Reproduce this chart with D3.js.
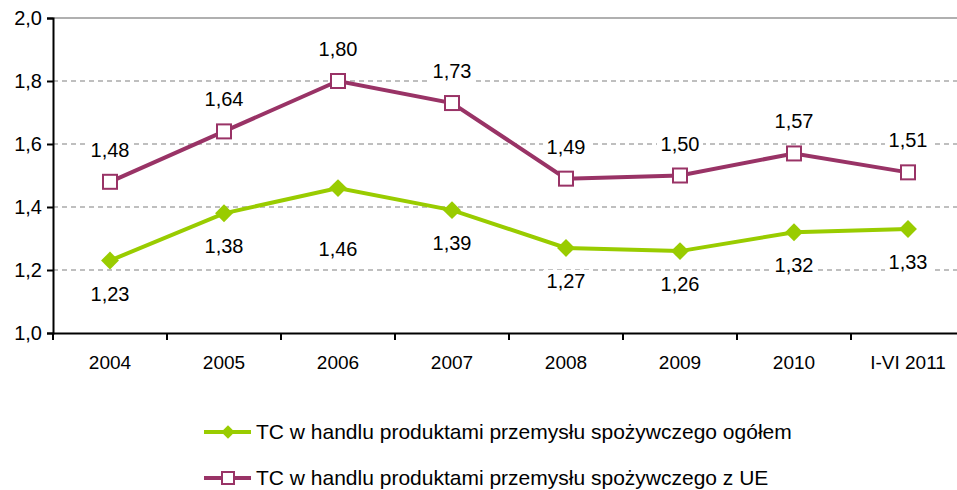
<!DOCTYPE html>
<html>
<head>
<meta charset="utf-8">
<script src="https://cdn.jsdelivr.net/npm/d3@7"></script>
<style>
  body { margin: 0; background: #fff; }
  text { font-family: "Liberation Sans", Arial, sans-serif; fill: #000; }
</style>
</head>
<body>
<div id="chart"></div>
<script>
// data
const categories = ["2004", "2005", "2006", "2007", "2008", "2009", "2010", "I-VI 2011"];
const totalValues = [1.23, 1.38, 1.46, 1.39, 1.27, 1.26, 1.32, 1.33];
const euValues = [1.48, 1.64, 1.80, 1.73, 1.49, 1.50, 1.57, 1.51];
const yTicks = [1.0, 1.2, 1.4, 1.6, 1.8, 2.0];
const seriesNames = [
    "TC w handlu produktami przemysłu spożywczego ogółem",
    "TC w handlu produktami przemysłu spożywczego z UE"
];

const W = 957, H = 490;
const green = "#99cc00", purple = "#993366";
const fmt = v => d3.format(".2f")(v).replace(".", ",");
const fmtTick = v => d3.format(".1f")(v).replace(".", ",");

const svg = d3.select("#chart").append("svg")
    .attr("width", W)
    .attr("height", H);

// plot extends past the right edge, as in the original
const plotLeft = 53, plotTop = 18, plotBottom = 333;
const x = d3.scaleBand()
    .domain(categories)
    .range([plotLeft, plotLeft + 114 * categories.length]);
const y = d3.scaleLinear()
    .domain([1.0, 2.0])
    .range([plotBottom, plotTop]);
const cx = d => x(d) + x.bandwidth() / 2;

// grid
svg.append("g").selectAll("line")
    .data(yTicks.filter(t => t > 1.0))
    .enter().append("line")
    .attr("x1", plotLeft).attr("x2", W)
    .attr("y1", d => y(d)).attr("y2", d => y(d))
    .attr("stroke", d => d === 2.0 ? "#b0b0b0" : "#808080")
    .attr("stroke-width", d => d === 2.0 ? 2 : 1.2)
    .attr("stroke-dasharray", d => d === 2.0 ? null : "5,4");

// y axis
const yAxis = svg.append("g")
    .attr("transform", "translate(" + plotLeft + ",0)")
    .call(d3.axisLeft(y).tickValues(yTicks).tickFormat(fmtTick).tickSize(6).tickPadding(5));
yAxis.select(".domain").attr("stroke", "#000").attr("stroke-width", 2);
yAxis.selectAll(".tick line").attr("stroke", "#000").attr("stroke-width", 2);
yAxis.selectAll("text").style("font-size", "20px").attr("font-family", null);

// x axis
const xAxis = svg.append("g")
    .attr("transform", "translate(0," + plotBottom + ")")
    .call(d3.axisBottom(x).tickSize(0).tickPadding(23));
xAxis.select(".domain").attr("stroke", "#000").attr("stroke-width", 2);
xAxis.selectAll("text").style("font-size", "19px").attr("font-family", null);
// tick marks between categories
svg.append("g").selectAll("line")
    .data(categories)
    .enter().append("line")
    .attr("x1", d => x(d) + x.bandwidth()).attr("x2", d => x(d) + x.bandwidth())
    .attr("y1", plotBottom).attr("y2", plotBottom + 7)
    .attr("stroke", "#000").attr("stroke-width", 2);
svg.append("line")
    .attr("x1", plotLeft).attr("x2", plotLeft)
    .attr("y1", plotBottom).attr("y2", plotBottom + 7)
    .attr("stroke", "#000").attr("stroke-width", 2);

const line = d3.line()
    .x((d, i) => cx(categories[i]))
    .y(d => y(d));

// lines
svg.append("path").datum(totalValues)
    .attr("d", line).attr("fill", "none")
    .attr("stroke", green).attr("stroke-width", 4);
svg.append("path").datum(euValues)
    .attr("d", line).attr("fill", "none")
    .attr("stroke", purple).attr("stroke-width", 4);

const diamond = d3.symbol().type(d3.symbolSquare).size(160);

// markers
svg.append("g").selectAll("path")
    .data(totalValues)
    .enter().append("path")
    .attr("d", diamond)
    .attr("transform", (d, i) => "translate(" + cx(categories[i]) + "," + y(d) + ") rotate(45)")
    .attr("fill", green);
svg.append("g").selectAll("rect")
    .data(euValues)
    .enter().append("rect")
    .attr("x", (d, i) => cx(categories[i]) - 7)
    .attr("y", d => y(d) - 7)
    .attr("width", 14).attr("height", 14)
    .attr("fill", "#fff")
    .attr("stroke", purple).attr("stroke-width", 2);

// value labels with white backing
function addLabels(values, dy) {
    const g = svg.append("g").selectAll("g")
        .data(values)
        .enter().append("g")
        .attr("transform", (d, i) => "translate(" + cx(categories[i]) + "," + (y(d) + dy(i)) + ")");
    g.append("rect")
        .attr("x", -23).attr("y", -11).attr("width", 46).attr("height", 22)
        .attr("fill", "#fff");
    g.append("text")
        .attr("text-anchor", "middle")
        .attr("dy", "0.35em")
        .style("font-size", "20px")
        .text(d => fmt(d));
}
addLabels(totalValues, i => i === 2 ? 61 : 33);
addLabels(euValues, i => -32);

// legend
const legend = svg.append("g");
const legendRows = [
    { name: seriesNames[0], color: green, y: 432, marker: "diamond" },
    { name: seriesNames[1], color: purple, y: 478, marker: "square" }
];
legendRows.forEach(r => {
    legend.append("line")
        .attr("x1", 204).attr("x2", 251)
        .attr("y1", r.y).attr("y2", r.y)
        .attr("stroke", r.color).attr("stroke-width", 4);
    if (r.marker === "diamond") {
        legend.append("path")
            .attr("d", d3.symbol().type(d3.symbolSquare).size(90))
            .attr("transform", "translate(228," + r.y + ") rotate(45)")
            .attr("fill", r.color);
    } else {
        legend.append("rect")
            .attr("x", 222).attr("y", r.y - 6)
            .attr("width", 12).attr("height", 12)
            .attr("fill", "#fff")
            .attr("stroke", r.color).attr("stroke-width", 2);
    }
    legend.append("text")
        .attr("x", 256).attr("y", r.y)
        .attr("dy", "0.35em")
        .style("font-size", "21px")
        .text(r.name);
});
</script>
</body>
</html>
